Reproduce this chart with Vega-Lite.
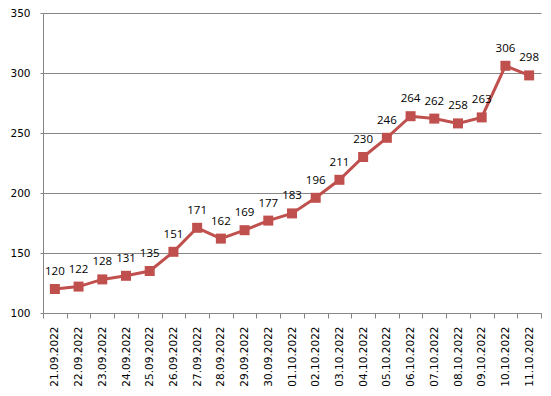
{
  "$schema": "https://vega.github.io/schema/vega-lite/v6.json",
  "width": 498,
  "height": 300,
  "autosize": "none",
  "padding": {"left": 43, "top": 13, "right": 10, "bottom": 83},
  "background": "white",
  "config": {"view": {"stroke": null}},
  "data": {"values": [
    {"date": "21.09.2022", "v": 120},
    {"date": "22.09.2022", "v": 122},
    {"date": "23.09.2022", "v": 128},
    {"date": "24.09.2022", "v": 131},
    {"date": "25.09.2022", "v": 135},
    {"date": "26.09.2022", "v": 151},
    {"date": "27.09.2022", "v": 171},
    {"date": "28.09.2022", "v": 162},
    {"date": "29.09.2022", "v": 169},
    {"date": "30.09.2022", "v": 177},
    {"date": "01.10.2022", "v": 183},
    {"date": "02.10.2022", "v": 196},
    {"date": "03.10.2022", "v": 211},
    {"date": "04.10.2022", "v": 230},
    {"date": "05.10.2022", "v": 246},
    {"date": "06.10.2022", "v": 264},
    {"date": "07.10.2022", "v": 262},
    {"date": "08.10.2022", "v": 258},
    {"date": "09.10.2022", "v": 263},
    {"date": "10.10.2022", "v": 306},
    {"date": "11.10.2022", "v": 298}
  ]},
  "encoding": {
    "x": {
      "field": "date", "type": "ordinal", "sort": null, "bandPosition": 0.5,
      "scale": {"type": "band", "paddingInner": 0, "paddingOuter": 0},
      "axis": {
        "title": null, "labelAngle": -90, "labelAlign": "right", "labelBaseline": "middle",
        "tickBand": "extent", "tickSize": 5, "tickColor": "#868686", "domainColor": "#868686",
        "labelFont": "DejaVu Sans", "labelFontSize": 10.5, "labelColor": "#000000", "labelPadding": 8,
        "grid": false
      }
    },
    "y": {
      "field": "v", "type": "quantitative",
      "scale": {"domain": [100, 350], "nice": false, "zero": false},
      "axis": {
        "title": null, "values": [100, 150, 200, 250, 300, 350], "tickSize": 3,
        "tickColor": "#868686", "domainColor": "#868686", "gridColor": "#868686", "gridOpacity": 1,
        "labelFont": "DejaVu Sans", "labelFontSize": 10.5, "labelColor": "#000000", "labelPadding": 10
      }
    }
  },
  "layer": [
    {"mark": {"type": "line", "color": "#C0504D", "strokeWidth": 3}},
    {"mark": {"type": "point", "shape": "square", "filled": true, "color": "#C0504D", "size": 100, "opacity": 1}},
    {"mark": {"type": "text", "dy": -17, "font": "Open Sans", "fontSize": 11.5, "color": "#000000", "baseline": "middle"},
     "encoding": {"text": {"field": "v", "type": "quantitative"}}}
  ]
}
